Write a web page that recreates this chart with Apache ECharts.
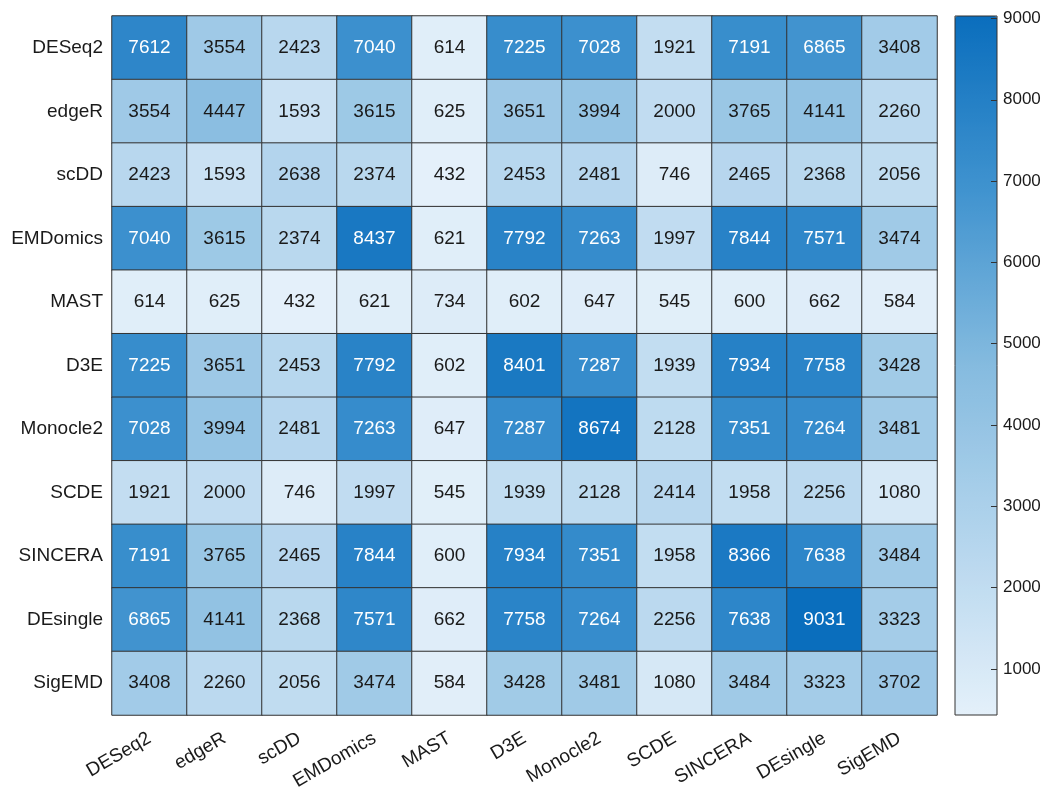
<!DOCTYPE html>
<html><head><meta charset="utf-8">
<script src="https://cdn.jsdelivr.net/npm/echarts@6/dist/echarts.min.js"></script>
<style>html,body{margin:0;padding:0;background:#fff}#c{width:1056px;height:798px}</style>
</head><body><div id="c"></div>
<script>
const methods = ['DESeq2','edgeR','scDD','EMDomics','MAST','D3E','Monocle2','SCDE','SINCERA','DEsingle','SigEMD'];
const rowDESeq2   = [7612,3554,2423,7040,614,7225,7028,1921,7191,6865,3408];
const rowEdgeR    = [3554,4447,1593,3615,625,3651,3994,2000,3765,4141,2260];
const rowScDD     = [2423,1593,2638,2374,432,2453,2481,746,2465,2368,2056];
const rowEMDomics = [7040,3615,2374,8437,621,7792,7263,1997,7844,7571,3474];
const rowMAST     = [614,625,432,621,734,602,647,545,600,662,584];
const rowD3E      = [7225,3651,2453,7792,602,8401,7287,1939,7934,7758,3428];
const rowMonocle2 = [7028,3994,2481,7263,647,7287,8674,2128,7351,7264,3481];
const rowSCDE     = [1921,2000,746,1997,545,1939,2128,2414,1958,2256,1080];
const rowSINCERA  = [7191,3765,2465,7844,600,7934,7351,1958,8366,7638,3484];
const rowDEsingle = [6865,4141,2368,7571,662,7758,7264,2256,7638,9031,3323];
const rowSigEMD   = [3408,2260,2056,3474,584,3428,3481,1080,3484,3323,3702];
const rows = [rowDESeq2,rowEdgeR,rowScDD,rowEMDomics,rowMAST,rowD3E,rowMonocle2,rowSCDE,rowSINCERA,rowDEsingle,rowSigEMD];
const colorTicks = [1000,2000,3000,4000,5000,6000,7000,8000,9000];
const vMin = 432, vMax = 9031;

const data = [];
rows.forEach((r, yi) => r.forEach((v, xi) => {
  data.push({value:[xi, yi, v], label:{color: v > 5000 ? '#ffffff' : '#1a1a1a'}});
}));

const FONT = 'Liberation Sans, Arial, sans-serif';
const chart = echarts.init(document.getElementById('c'));
chart.setOption({
  animation:false,
  textStyle:{fontFamily:FONT},
  grid:[
    {left:112, top:16, width:825, height:699, containLabel:false},
    {left:955, top:16, width:42, height:699, show:true, borderColor:'#333', borderWidth:1, backgroundColor:'transparent', z:10}
  ],
  xAxis:[
    {type:'category', data:methods, gridIndex:0, position:'bottom',
     axisLine:{show:false}, axisTick:{show:false}, splitLine:{show:false},
     axisLabel:{rotate:30, fontSize:19, color:'#1a1a1a', margin:22, interval:0, fontFamily:FONT}},
    {type:'value', gridIndex:1, show:false, min:0, max:1}
  ],
  yAxis:[
    {type:'category', data:methods, gridIndex:0, inverse:true,
     axisLine:{show:false}, axisTick:{show:false}, splitLine:{show:false},
     axisLabel:{fontSize:19, color:'#1a1a1a', margin:9, fontFamily:FONT}},
    {type:'value', gridIndex:1, min:vMin, max:vMax, position:'right', z:20,
     axisLine:{show:false, onZero:false}, splitLine:{show:false},
     axisTick:{show:true, inside:true, length:6, customValues:colorTicks, lineStyle:{color:'#333'}},
     axisLabel:{show:true, customValues:colorTicks, fontSize:17, color:'#1a1a1a', margin:6, fontFamily:FONT,
       formatter:function(v){return String(v);}}}
  ],
  visualMap:{
    type:'continuous', min:vMin, max:vMax, calculable:false, seriesIndex:0,
    orient:'vertical', left:955, top:16, itemWidth:42, itemHeight:699, padding:0,
    text:['',''], showLabel:false, hoverLink:false, z:2,
    inRange:{color:['#e4f0fa','#b4d5ed','#85bbdf','#4093cf','#0a6ebd']}
  },
  series:[{
    type:'heatmap', xAxisIndex:0, yAxisIndex:0, data:data,
    itemStyle:{borderColor:'#333', borderWidth:1},
    label:{show:true, fontSize:19, fontFamily:FONT},
    emphasis:{disabled:true}
  }]
});
</script></body></html>
